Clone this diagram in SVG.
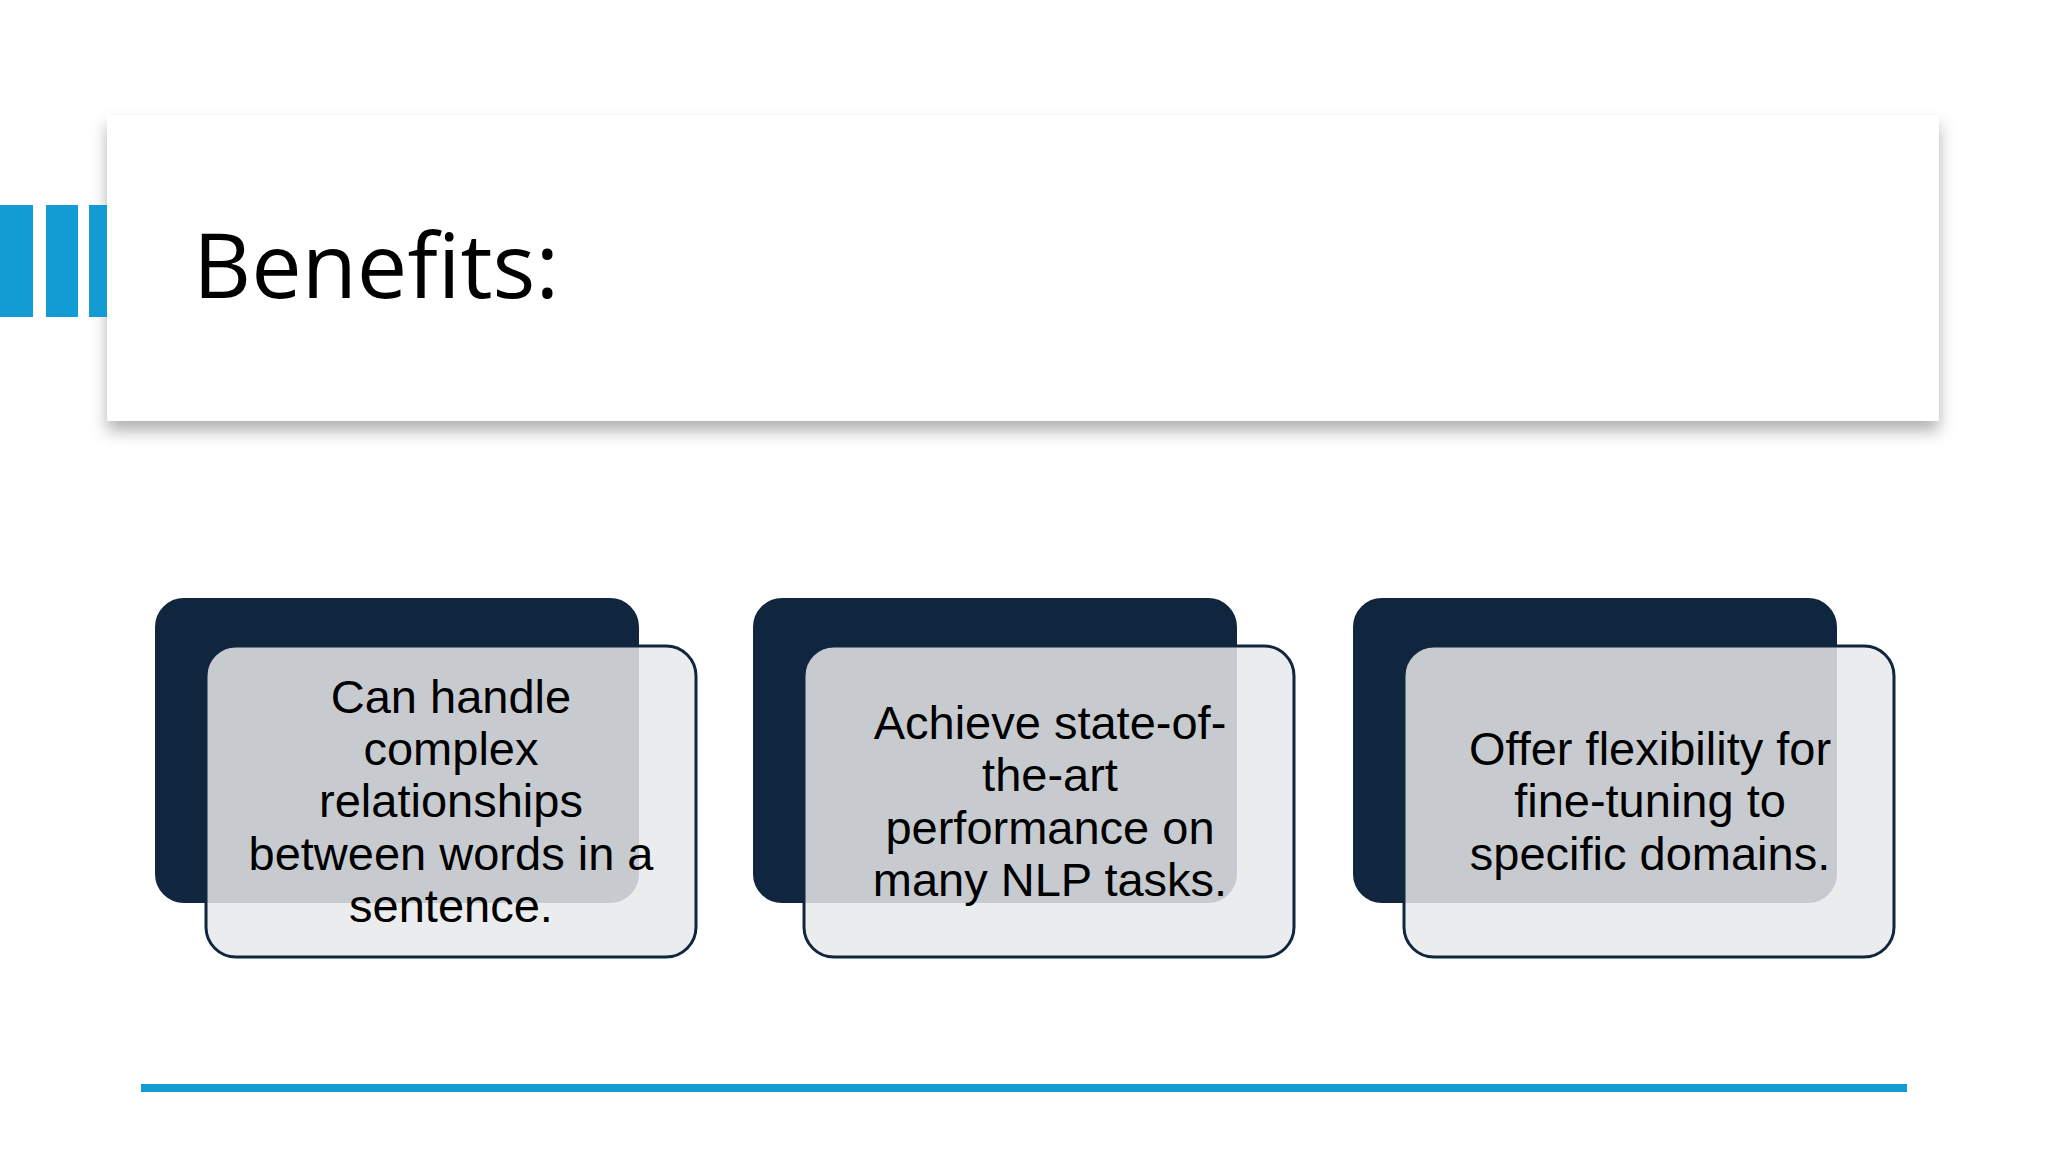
<svg xmlns="http://www.w3.org/2000/svg" width="2048" height="1152" viewBox="0 0 2048 1152">
<defs>
<filter id="sh" x="-5%" y="-20%" width="110%" height="150%"><feDropShadow dx="0" dy="10" stdDeviation="8" flood-color="#000" flood-opacity="0.3"/></filter>
</defs>
<style>
.back{fill:#10263f;stroke:#fff;stroke-width:2}
.front{fill:#e8e9ea;fill-opacity:0.85;stroke:#10263f;stroke-width:3}
.t{font-family:"Liberation Sans",Arial,sans-serif;font-size:47px;fill:#000;text-anchor:middle}
.bar{fill:#139bd4}
</style>
<rect width="2048" height="1152" fill="#fff"/>
<g id="title">
<rect x="107" y="115" width="1832" height="306" fill="#fff" filter="url(#sh)"/>
<rect class="bar" x="0" y="205" width="33" height="112"/>
<rect class="bar" x="46" y="205" width="32" height="112"/>
<rect class="bar" x="89" y="205" width="18" height="112"/>
<text x="193" y="298" font-family="Open Sans, sans-serif" font-size="90" fill="#000">Benefits:</text>
</g>
<g id="card1">
<rect class="back" x="154" y="597" width="486" height="307" rx="30"/>
<rect class="front" x="206" y="646" width="490" height="311" rx="30"/>
<text class="t"><tspan x="451" y="713">Can handle</tspan><tspan x="451" y="765">complex</tspan><tspan x="451" y="817">relationships</tspan><tspan x="451" y="870">between words in a</tspan><tspan x="451" y="922">sentence.</tspan></text>
</g>
<g id="card2">
<rect class="back" x="752" y="597" width="486" height="307" rx="30"/>
<rect class="front" x="804" y="646" width="490" height="311" rx="30"/>
<text class="t"><tspan x="1050" y="739">Achieve state-of-</tspan><tspan x="1050" y="791">the-art</tspan><tspan x="1050" y="844">performance on</tspan><tspan x="1050" y="896">many NLP tasks.</tspan></text>
</g>
<g id="card3">
<rect class="back" x="1352" y="597" width="486" height="307" rx="30"/>
<rect class="front" x="1404" y="646" width="490" height="311" rx="30"/>
<text class="t"><tspan x="1650" y="765">Offer flexibility for</tspan><tspan x="1650" y="817">fine-tuning to</tspan><tspan x="1650" y="870">specific domains.</tspan></text>
</g>
<g id="connectors"></g>
<rect class="bar" x="141" y="1084" width="1766" height="8"/>
</svg>
